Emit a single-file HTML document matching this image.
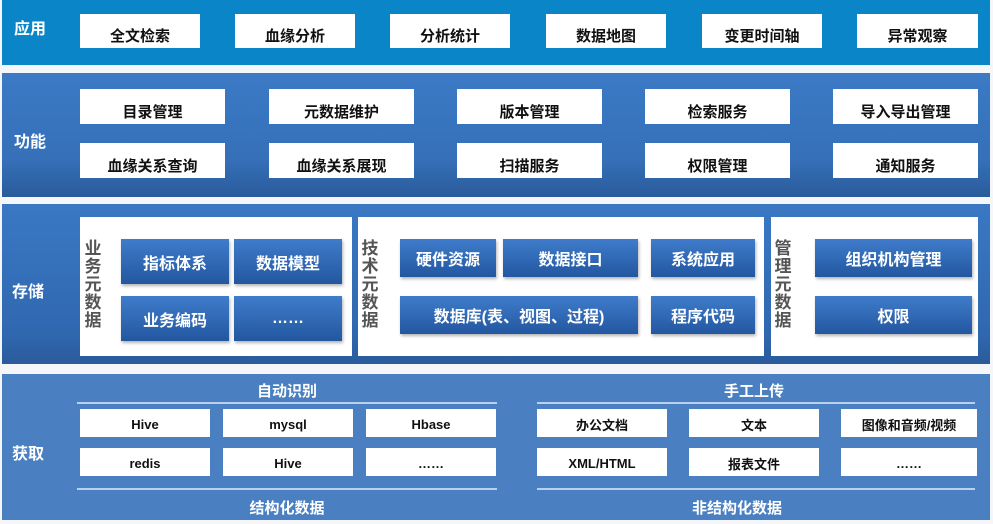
<!DOCTYPE html>
<html><head><meta charset="utf-8"><style>
*{margin:0;padding:0;box-sizing:border-box}
body{width:993px;height:524px;background:#f4f6f9;position:relative;overflow:hidden;font-family:"Liberation Sans","Noto Sans CJK SC",sans-serif;font-weight:bold}
.band{position:absolute;left:2px;width:988px}
.lbl{position:absolute;color:#fff;font-size:16px;left:14px}
.w{position:absolute;background:#fff;color:#111;font-size:15px;display:flex;align-items:center;justify-content:center;padding-top:9px}
.p{position:absolute;background:#fff}
.b{position:absolute;background:linear-gradient(#3f7ccb,#2357a0);color:#fff;font-size:16px;display:flex;align-items:center;justify-content:center;box-shadow:1px 2px 3px rgba(0,0,0,.3)}
.v{position:absolute;color:#555;font-size:17px;width:20px;line-height:18px;text-align:center}
.s{position:absolute;background:#fff;color:#111;font-size:13px;display:flex;align-items:center;justify-content:center;padding-top:2px}
.t{position:absolute;color:#fff;font-size:15px;text-align:center}
.ln{position:absolute;height:2px;background:#b9d1ee}
</style></head><body>
<div class="band" style="top:0;height:65px;background:#0a86c8"></div>
<div class="lbl" style="top:15px">应用</div>
<div class="w" style="left:80px;top:14px;width:120px;height:34px">全文检索</div>
<div class="w" style="left:235px;top:14px;width:120px;height:34px">血缘分析</div>
<div class="w" style="left:390px;top:14px;width:120px;height:34px">分析统计</div>
<div class="w" style="left:546px;top:14px;width:120px;height:34px">数据地图</div>
<div class="w" style="left:702px;top:14px;width:120px;height:34px">变更时间轴</div>
<div class="w" style="left:857px;top:14px;width:121px;height:34px">异常观察</div>

<div class="band" style="top:73px;height:124px;background:linear-gradient(#3c7ac6,#3570b8 70%,#2a5b9b)"></div>
<div class="lbl" style="top:128px">功能</div>
<div class="w" style="left:80px;top:89px;width:145px;height:35px">目录管理</div>
<div class="w" style="left:269px;top:89px;width:145px;height:35px">元数据维护</div>
<div class="w" style="left:457px;top:89px;width:145px;height:35px">版本管理</div>
<div class="w" style="left:645px;top:89px;width:145px;height:35px">检索服务</div>
<div class="w" style="left:833px;top:89px;width:145px;height:35px">导入导出管理</div>
<div class="w" style="left:80px;top:143px;width:145px;height:35px">血缘关系查询</div>
<div class="w" style="left:269px;top:143px;width:145px;height:35px">血缘关系展现</div>
<div class="w" style="left:457px;top:143px;width:145px;height:35px">扫描服务</div>
<div class="w" style="left:645px;top:143px;width:145px;height:35px">权限管理</div>
<div class="w" style="left:833px;top:143px;width:145px;height:35px">通知服务</div>

<div class="band" style="top:204px;height:160px;background:linear-gradient(#3a78c4,#3068b0 80%,#2a5b9b)"></div>
<div class="lbl" style="top:278px;left:12px">存储</div>
<div class="p" style="left:80px;top:217px;width:272px;height:139px"></div>
<div class="p" style="left:358px;top:217px;width:406px;height:139px"></div>
<div class="p" style="left:771px;top:217px;width:207px;height:139px"></div>
<div class="v" style="left:83px;top:240px">业务元数据</div>
<div class="v" style="left:360px;top:240px">技术元数据</div>
<div class="v" style="left:773px;top:240px">管理元数据</div>
<div class="b" style="left:121px;top:239px;width:108px;height:45px">指标体系</div>
<div class="b" style="left:234px;top:239px;width:108px;height:45px">数据模型</div>
<div class="b" style="left:121px;top:296px;width:108px;height:45px">业务编码</div>
<div class="b" style="left:234px;top:296px;width:108px;height:45px">……</div>
<div class="b" style="left:400px;top:239px;width:96px;height:38px">硬件资源</div>
<div class="b" style="left:503px;top:239px;width:135px;height:38px">数据接口</div>
<div class="b" style="left:651px;top:239px;width:104px;height:38px">系统应用</div>
<div class="b" style="left:400px;top:296px;width:238px;height:38px">数据库(表、视图、过程)</div>
<div class="b" style="left:651px;top:296px;width:104px;height:38px">程序代码</div>
<div class="b" style="left:815px;top:239px;width:157px;height:38px">组织机构管理</div>
<div class="b" style="left:815px;top:296px;width:157px;height:38px">权限</div>

<div class="band" style="top:374px;height:146px;background:#4a80c2"></div>
<div class="lbl" style="top:440px;left:12px">获取</div>
<div class="t" style="left:77px;width:420px;top:380px">自动识别</div>
<div class="t" style="left:537px;width:434px;top:380px">手工上传</div>
<div class="ln" style="left:77px;width:420px;top:402px"></div>
<div class="ln" style="left:537px;width:438px;top:402px"></div>
<div class="s" style="left:80px;top:409px;width:130px;height:28px">Hive</div>
<div class="s" style="left:223px;top:409px;width:130px;height:28px">mysql</div>
<div class="s" style="left:366px;top:409px;width:130px;height:28px">Hbase</div>
<div class="s" style="left:80px;top:448px;width:130px;height:28px">redis</div>
<div class="s" style="left:223px;top:448px;width:130px;height:28px">Hive</div>
<div class="s" style="left:366px;top:448px;width:130px;height:28px">……</div>
<div class="s" style="left:537px;top:409px;width:130px;height:28px">办公文档</div>
<div class="s" style="left:689px;top:409px;width:130px;height:28px">文本</div>
<div class="s" style="left:841px;top:409px;width:136px;height:28px">图像和音频/视频</div>
<div class="s" style="left:537px;top:448px;width:130px;height:28px">XML/HTML</div>
<div class="s" style="left:689px;top:448px;width:130px;height:28px">报表文件</div>
<div class="s" style="left:841px;top:448px;width:136px;height:28px">……</div>
<div class="ln" style="left:77px;width:420px;top:488px"></div>
<div class="ln" style="left:537px;width:438px;top:488px"></div>
<div class="t" style="left:77px;width:420px;top:497px">结构化数据</div>
<div class="t" style="left:537px;width:400px;top:497px">非结构化数据</div>
</body></html>
